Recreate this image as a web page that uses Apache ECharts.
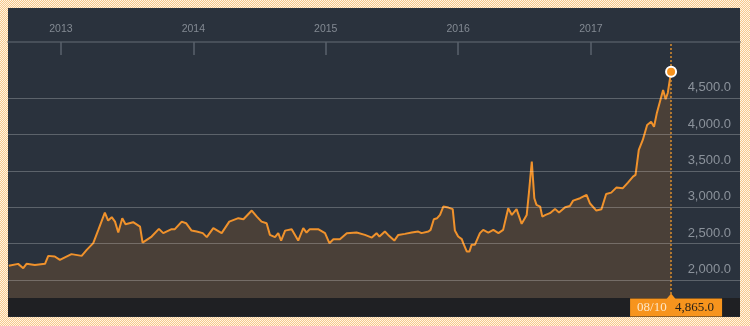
<!DOCTYPE html>
<html>
<head>
<meta charset="utf-8">
<script src="https://cdn.jsdelivr.net/npm/echarts@6/dist/echarts.min.js"></script>
<style>
  html, body { margin: 0; padding: 0; }
  body {
    width: 750px; height: 326px; overflow: hidden;
    background-color: #fbe3c2;
    background-image: repeating-conic-gradient(#f7c98c 0 25%, #fff4e4 0 50%);
    background-size: 2px 2px;
  }
  #panel { position: absolute; left: 8px; top: 8px; width: 732px; height: 309px; background: #2a323d; }
  #chart { position: absolute; left: 0; top: 0; width: 750px; height: 326px; }
</style>
</head>
<body>
<div id="panel"></div>
<div id="chart"></div>
<script>
// ---- data ----
const dates = [
  '2012-08-10','2012-09-05','2012-09-19','2012-09-28','2012-10-21','2012-11-18','2012-11-27','2012-12-15','2012-12-29',
  '2013-01-30','2013-02-27','2013-03-13','2013-03-31','2013-04-14','2013-05-02','2013-05-11','2013-05-21','2013-05-30',
  '2013-06-08','2013-06-19','2013-06-28','2013-07-19','2013-08-07','2013-08-14','2013-09-08','2013-09-28','2013-10-10',
  '2013-11-02','2013-11-11','2013-11-30','2013-12-12','2013-12-27',
  '2014-01-10','2014-01-27','2014-02-07','2014-02-25','2014-03-20','2014-04-10','2014-05-05','2014-05-19','2014-06-11',
  '2014-06-25','2014-07-08','2014-07-22','2014-07-31','2014-08-14','2014-08-23','2014-08-31','2014-09-11','2014-09-29',
  '2014-10-17','2014-10-31','2014-11-09','2014-11-18','2014-12-11','2014-12-30',
  '2015-01-11','2015-01-22','2015-02-09','2015-02-28','2015-03-27','2015-04-19','2015-05-08','2015-05-21','2015-05-29',
  '2015-06-13','2015-06-22','2015-07-09','2015-07-20','2015-08-07','2015-08-26','2015-09-13','2015-09-22','2015-10-11',
  '2015-10-17','2015-10-26','2015-11-04','2015-11-12','2015-11-21','2015-12-05','2015-12-17','2015-12-23',
  '2016-01-01','2016-01-11','2016-01-15','2016-01-25','2016-02-01','2016-02-07','2016-02-16','2016-03-01','2016-03-10',
  '2016-03-24','2016-04-07','2016-04-21','2016-05-04','2016-05-18','2016-05-28','2016-06-10','2016-06-24','2016-07-08',
  '2016-07-14','2016-07-22','2016-07-29','2016-08-04','2016-08-14','2016-08-20','2016-08-29','2016-09-10','2016-09-24',
  '2016-10-05','2016-10-22','2016-11-04','2016-11-13','2016-12-02','2016-12-20','2016-12-29',
  '2017-01-16','2017-01-30','2017-02-12','2017-02-26','2017-03-12','2017-03-30','2017-04-13','2017-04-27','2017-05-04',
  '2017-05-13','2017-05-24','2017-06-05','2017-06-16','2017-06-24','2017-07-02','2017-07-07','2017-07-19','2017-07-26',
  '2017-08-01','2017-08-10'
];
const values = [
  2193,2220,2161,2220,2206,2220,2330,2321,2275,
  2354,2330,2413,2505,2688,2926,2816,2863,2802,
  2651,2849,2766,2794,2733,2513,2596,2702,2643,
  2698,2698,2802,2780,2678,
  2665,2643,2588,2711,2643,2802,2849,2835,2954,
  2871,2802,2780,2619,2588,2643,2541,2678,2698,
  2541,2711,2651,2698,2698,2643,
  2505,2560,2560,2643,2651,2619,2582,2643,2596,
  2665,2619,2541,2619,2633,2651,2665,2643,2665,
  2688,2835,2849,2894,3009,2995,2973,2678,
  2596,2560,2505,2389,2389,2482,2482,2643,2688,
  2651,2688,2643,2688,2987,2894,2973,2771,2894,
  3193,3628,3124,3032,3009,2871,2894,2918,2977,
  2926,3000,3018,3091,3124,3170,3055,
  2954,2973,3183,3201,3270,3262,3339,3421,3445,
  3789,3926,4133,4178,4109,4302,4316,4614,4486,
  4577,4865
];
const yearTicks = ['2013','2014','2015','2016','2017'];
const valueTicks = [2000, 2500, 3000, 3500, 4000, 4500];
const axisStart = '2012-08-08';
const axisEnd = '2018-02-16';
const yMin = 1750, yMax = 5275;

// ---- helpers ----
function ts(s) { const p = s.split('-'); return new Date(+p[0], (+p[1] || 1) - 1, +p[2] || 1).getTime(); }
function fmt1(v) { return v.toLocaleString('en-US', { minimumFractionDigits: 1, maximumFractionDigits: 1 }); }
const seriesData = dates.map((d, i) => [ts(d), values[i]]);
const last = seriesData[seriesData.length - 1];
const lastDateStr = dates[dates.length - 1];
const lastLabel = lastDateStr.slice(5, 7) + '/' + lastDateStr.slice(8, 10);

const chart = echarts.init(document.getElementById('chart'), null, { renderer: 'canvas' });
const option = {
  backgroundColor: 'transparent',
  animation: false,
  grid: { left: 8, right: 10, top: 42, bottom: 28, outerBoundsMode: 'none', containLabel: false },
  xAxis: {
    type: 'value', position: 'top',
    min: ts(axisStart), max: ts(axisEnd),
    axisLine: { show: true, lineStyle: { color: '#515963', width: 1.5 } },
    axisTick: { show: true, inside: true, length: 13, lineStyle: { color: '#5a626c', width: 1.5 },
                customValues: yearTicks.map(ts) },
    axisLabel: { show: true, color: '#838a93', fontSize: 10.5, margin: 7, fontFamily: 'Liberation Sans, Arial, sans-serif',
                 customValues: yearTicks.map(ts),
                 formatter: v => String(new Date(v).getFullYear()) },
    splitLine: { show: false }
  },
  yAxis: {
    type: 'value', position: 'right', min: yMin, max: yMax,
    axisLine: { show: false }, axisTick: { show: false }, splitLine: { show: false },
    axisLabel: { show: true, inside: true, margin: 9, color: '#8b929b', fontSize: 13,
                 fontFamily: 'Liberation Sans, Arial, sans-serif',
                 verticalAlign: 'bottom', padding: [0, 0, 4, 0],
                 customValues: valueTicks, formatter: v => fmt1(v) }
  },
  series: [
    {
      type: 'line', data: seriesData, showSymbol: false, symbol: 'none',
      lineStyle: { color: '#f0922c', width: 2 },
      areaStyle: { color: '#4a4038', opacity: 1 },
      z: 2,
      markLine: {
        silent: true, symbol: ['none', 'none'], animation: false,
        label: { show: false },
        data: valueTicks.map(v => ({ yAxis: v, lineStyle: { color: 'rgba(255,255,255,0.24)', width: 1, type: 'solid' } }))
          .concat([{ xAxis: last[0], lineStyle: { color: '#d98c2c', width: 1.5, type: [2, 2] } }])
      }
    },
    {
      type: 'scatter', data: [last], symbol: 'circle', symbolSize: 10, z: 5,
      itemStyle: { color: '#f7931e', borderColor: '#ffffff', borderWidth: 2, opacity: 1 }
    }
  ]
};
chart.setOption(option);

const px = chart.convertToPixel({ xAxisIndex: 0, yAxisIndex: 0 }, last)[0];
const gridBottomY = 326 - 28;
chart.setOption({
  graphic: [
    { type: 'rect', z: 10, shape: { x: 8, y: gridBottomY, width: 732, height: 18.5 }, style: { fill: '#1f2023' } },
    { type: 'polygon', z: 11, shape: { points: [[px - 4.5, gridBottomY + 1], [px, gridBottomY - 4.5], [px + 4.5, gridBottomY + 1]] }, style: { fill: '#f7941d' } },
    { type: 'rect', z: 11, shape: { x: px - 41, y: gridBottomY + 0.5, width: 92, height: 18 }, style: { fill: '#f7941d' } },
    { type: 'text', z: 12, x: px - 34, y: gridBottomY + 9.5,
      style: { text: lastLabel, fill: '#fde6c6', font: '13px "Liberation Serif", serif', verticalAlign: 'middle', align: 'left' } },
    { type: 'text', z: 12, x: px + 4, y: gridBottomY + 9.5,
      style: { text: fmt1(last[1]), fill: '#2b2218', font: '13px "Liberation Serif", serif', verticalAlign: 'middle', align: 'left' } }
  ]
});
</script>
</body>
</html>
